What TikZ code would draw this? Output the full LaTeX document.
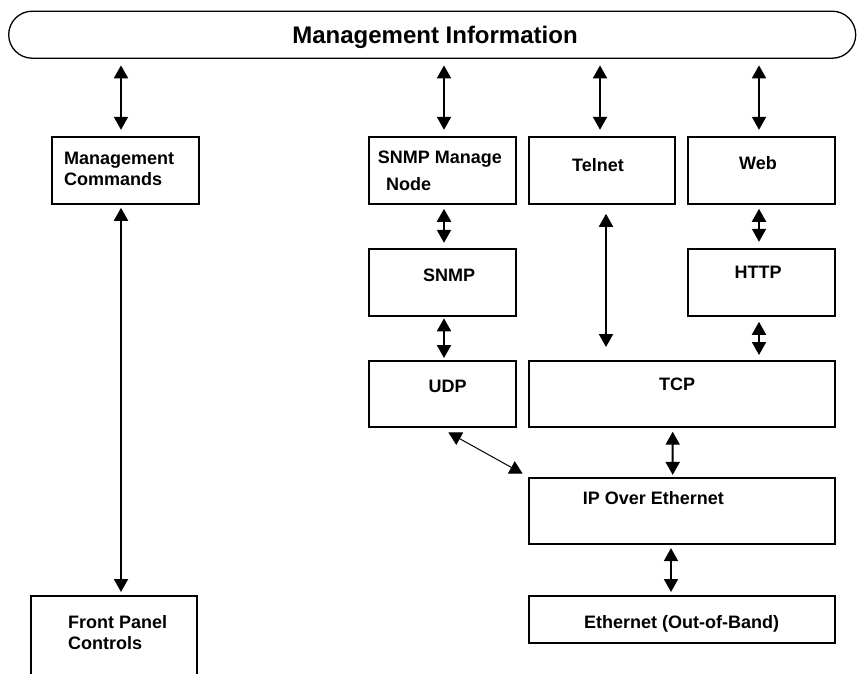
\documentclass[tikz,border=0pt]{standalone}
\usepackage{fontspec}
\setmainfont{Liberation Sans}
\usetikzlibrary{arrows.meta,calc}

\tikzset{
	box/.style={draw, line width=2pt, inner sep=0pt},
	txt/.style={inner sep=0pt, anchor=base, font=\fontsize{18}{21}\selectfont\bfseries},
	both/.style={{Triangle[width=14pt,length=13pt]}-{Triangle[width=14pt,length=13pt]}, line width=2pt},
}

\begin{document}
\begin{tikzpicture}[x=1pt,y=-1pt]
		\clip (0,0) rectangle (858,673);
		% management information bar
		\node[draw, line width=1.3pt, rounded corners=23.5pt, minimum width=847pt, minimum height=47pt, inner sep=0pt] (info) at (432.2,34.7) {};
		\node[txt, font=\fontsize{24}{28}\selectfont\bfseries] (infotxt) at (435,43.3) {Management Information};
		% boxes
		\node[box, minimum width=147pt, minimum height=67pt] (cmds) at (125.3,170.3) {};
		\node[box, minimum width=147pt, minimum height=67pt] (snmpmgr) at (442.5,170.3) {};
		\node[box, minimum width=146pt, minimum height=67pt] (telnet) at (601.9,170.3) {};
		\node[box, minimum width=147pt, minimum height=67pt] (web) at (761.3,170.3) {};
		\node[box, minimum width=147pt, minimum height=67pt] (snmp) at (442.5,282.3) {};
		\node[box, minimum width=147pt, minimum height=67pt] (http) at (761.2,282.3) {};
		\node[box, minimum width=147pt, minimum height=66pt] (udp) at (442.5,394) {};
		\node[box, minimum width=306pt, minimum height=66pt] (tcp) at (681.6,394) {};
		\node[box, minimum width=306pt, minimum height=66pt] (ip) at (681.9,510.6) {};
		\node[box, minimum width=306pt, minimum height=47pt] (eth) at (681.9,619.8) {};
		\node[box, minimum width=166pt, minimum height=200pt] (panel) at (114,696) {};
		% labels
		\node[txt, anchor=base west] (cmdsa) at (64,164.5) {Management};
		\node[txt, anchor=base west] (cmdsb) at (64,185.5) {Commands};
		\node[txt, anchor=base west] (snmpmgra) at (377.7,163.5) {SNMP Manage};
		\node[txt, anchor=base west] (snmpmgrb) at (386,190.5) {Node};
		\node[txt] (telnettxt) at (598,171.5) {Telnet};
		\node[txt] (webtxt) at (758,169.5) {Web};
		\node[txt] (snmptxt) at (449,281.5) {SNMP};
		\node[txt] (httptxt) at (758,278.5) {HTTP};
		\node[txt] (udptxt) at (447.7,392.5) {UDP};
		\node[txt] (tcptxt) at (677,390.5) {TCP};
		\node[txt, anchor=base west] (iptxt) at (582.7,504.5) {IP Over Ethernet};
		\node[txt] (ethtxt) at (681.7,628.5) {Ethernet (Out-of-Band)};
		\node[txt, anchor=base west] (panela) at (68,628.5) {Front Panel};
		\node[txt, anchor=base west] (panelb) at (68,649.5) {Controls};
		% bar to top row
		\draw[both, shorten <=6.5pt, shorten >=6pt] ($(info.south -| cmds.north)+(-4.3,0)$) -- ($(cmds.north)+(-4.3,0)$);
		\draw[both, shorten <=6.5pt, shorten >=6pt] ($(info.south -| snmpmgr.north)+(1.5,0)$) -- ($(snmpmgr.north)+(1.5,0)$);
		\draw[both, shorten <=6.5pt, shorten >=6pt] ($(info.south -| telnet.north)+(-1.9,0)$) -- ($(telnet.north)+(-1.9,0)$);
		\draw[both, shorten <=6.5pt, shorten >=6pt] ($(info.south -| web.north)+(-2.3,0)$) -- ($(web.north)+(-2.3,0)$);
		% stacks
		\draw[both, shorten <=3pt, shorten >=3pt] ($(cmds.south)+(-4.3,0)$) -- ($(panel.north)+(7,0)$);
		\draw[both, shorten <=4pt, shorten >=5pt] ($(snmpmgr.south)+(1.5,0)$) -- ($(snmp.north)+(1.5,0)$);
		\draw[both, shorten <=1.5pt, shorten >=2pt] ($(snmp.south)+(1.5,0)$) -- ($(udp.north)+(1.5,0)$);
		\draw[both, shorten <=9pt, shorten >=13pt] ($(telnet.south)+(4.1,0)$) -- ($(tcp.north)+(-75.6,0)$);
		\draw[both, shorten <=4pt, shorten >=6pt] ($(web.south)+(-2.3,0)$) -- ($(http.north)+(-2.2,0)$);
		\draw[both, shorten <=5pt, shorten >=5pt] ($(http.south)+(-2.2,0)$) -- ($(tcp.north)+(77.4,0)$);
		\draw[both, line width=1pt, shorten <=9pt, shorten >=6pt] ($(udp.south)+(-2,0)$) -- (ip.north west);
		\draw[both, shorten <=3.7pt, shorten >=1.7pt] ($(tcp.south)+(-8.9,0)$) -- ($(ip.north)+(-9.2,0)$);
		\draw[both, shorten <=3.5pt, shorten >=3.3pt] ($(ip.south)+(-10.9,0)$) -- ($(eth.north)+(-10.9,0)$);
\end{tikzpicture}
\end{document}
